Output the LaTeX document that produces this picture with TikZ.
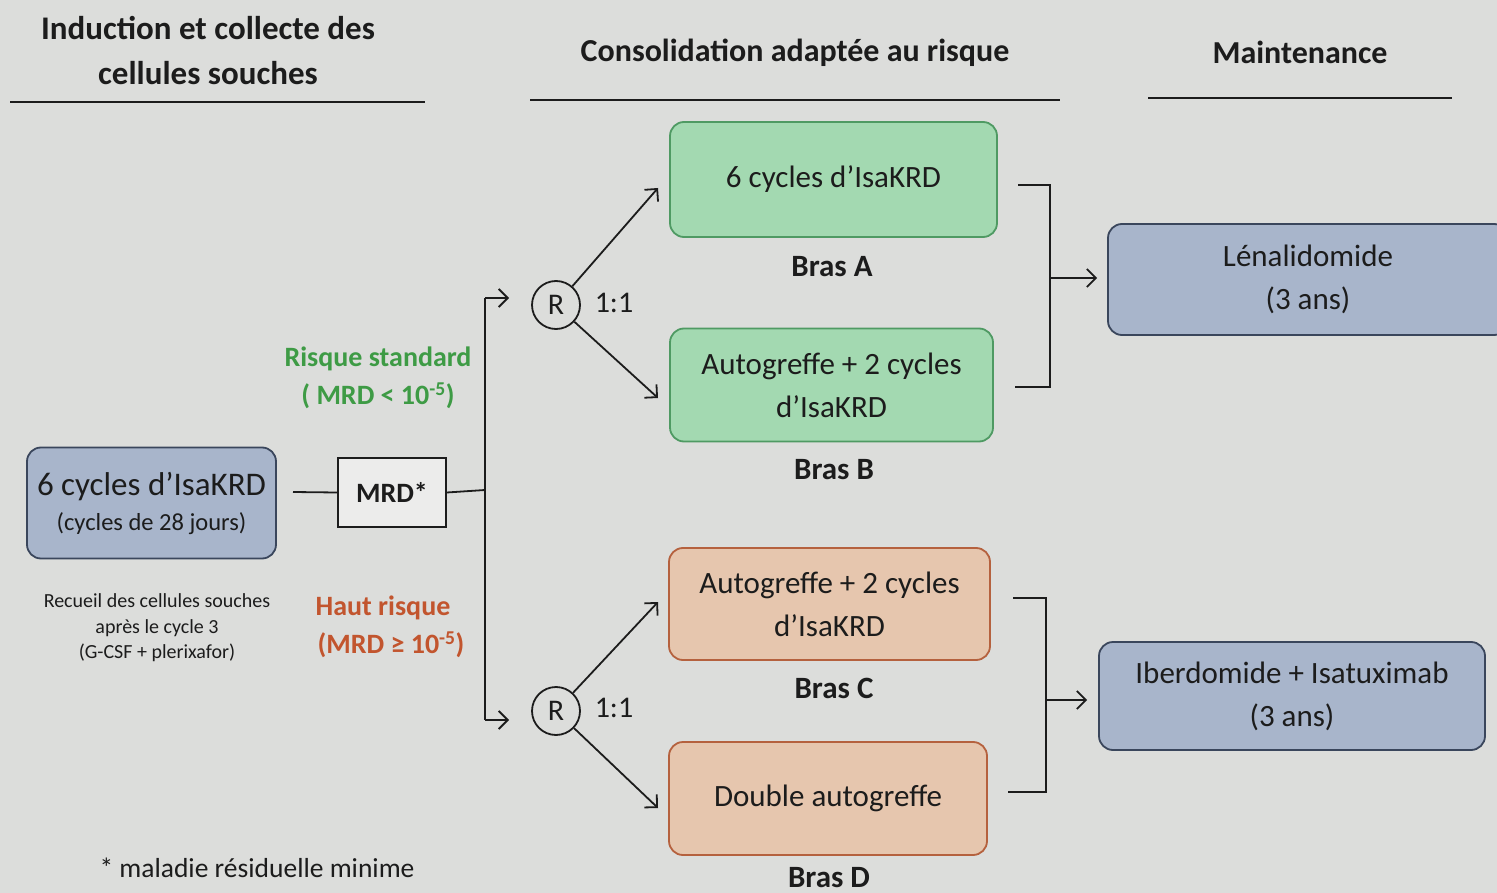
\documentclass[tikz,border=0pt]{standalone}
\usepackage{fontspec}
\setmainfont{Carlito}
\usetikzlibrary{arrows.meta}
\definecolor{bg}{HTML}{DCDDDB}
\definecolor{blueF}{HTML}{A8B5CB}
\definecolor{blueD}{HTML}{3A465C}
\definecolor{greenF}{HTML}{A3D9B1}
\definecolor{greenD}{HTML}{4F9A63}
\definecolor{orangeF}{HTML}{E6C6AE}
\definecolor{orangeD}{HTML}{B5613E}
\definecolor{stdG}{HTML}{3E9B45}
\definecolor{hautR}{HTML}{C2552E}
\definecolor{ink}{HTML}{1C1C1C}
% font size and line distance, both in pt
\newcommand{\fs}[2]{\fontsize{#1}{#2}\selectfont}
\tikzset{
  wire/.style={draw=ink, line width=1.8pt},
  arr/.style={wire, -{Straight Barb[length=9pt,width=18pt,line width=1.8pt]}},
  roundbox/.style={rounded corners=14pt, line width=1.8pt, align=center, text=ink, inner sep=0pt,
                   font=\fs{31}{43}},
  bluebox/.style={roundbox, fill=blueF, draw=blueD},
  greenbox/.style={roundbox, fill=greenF, draw=greenD},
  orangebox/.style={roundbox, fill=orangeF, draw=orangeD},
  head/.style={font=\fs{32}{45}\bfseries, text=ink, align=center},
  bras/.style={font=\fs{31}{36}\bfseries, text=ink},
  randnode/.style={circle, draw=ink, line width=1.8pt, minimum size=48pt, inner sep=0pt,
                   font=\fs{30}{36}, text=ink},
  ratio/.style={font=\fs{30}{36}, text=ink},
  risk/.style={font=\fs{28}{38}\bfseries, align=center},
}
\begin{document}
\begin{tikzpicture}[x=1pt,y=-1pt]
\useasboundingbox (0,0) rectangle (1497,893);
\fill[bg] (0,0) rectangle (1497,893);

% column headings and their rules
\node[head, font=\fs{33}{45}\bfseries] (h1) at (208,51) {Induction et collecte des\\cellules souches};
\draw[line width=2.2pt, ink] (10,102) -- (425,102);
\node[head] (h2) at (795,53) {Consolidation adaptée au risque};
\draw[line width=2.2pt, ink] (530,100) -- (1060,100);
\node[head] (h3) at (1300,52) {Maintenance};
\draw[line width=2.2pt, ink] (1148,98) -- (1452,98);

% induction
\node[bluebox, minimum width=249pt, minimum height=111pt, font=\fs{24.5}{30}] (ind) at (151.5,503)
  {{\fs{33}{36}6 cycles d’IsaKRD}\\[5pt](cycles de 28 jours)};
\node[font=\fs{20}{25.5}, text=ink, align=center] (recueil) at (157,628)
  {Recueil des cellules souches\\après le cycle 3\\(G-CSF + plerixafor)};

% MRD test
\node[draw=ink, line width=1.8pt, fill=bg!55!white, minimum width=108pt, minimum height=69pt,
      font=\fs{28}{32}\bfseries, text=ink] (mrd) at (392,492.5) {MRD*};
\coordinate (indout) at (293,492);
\draw[wire] (indout) -- (mrd.west);
\coordinate (split) at (485,490);
\draw[wire] (mrd.east) -- (split);

% risk split
\coordinate (vtop) at (485,298);
\coordinate (vbot) at (485,720);
\coordinate (ttop) at (509,298);
\coordinate (tbot) at (509,720);
\draw[wire] (vtop) -- (vbot);
\draw[arr] (vtop) -- (ttop);
\draw[arr] (vbot) -- (tbot);
\node[risk, text=stdG] (std) at (378,378)
  {Risque standard\\( MRD < 10\textsuperscript{-5})};
\node[risk, text=hautR] (haut) at (383,627)
  {Haut risque\\\hspace*{16pt}(MRD ≥ 10\textsuperscript{-5})};

% randomisations
\node[randnode] (r1) at (556,305) {R};
\node[ratio] (q1) at (614,303) {1:1};
\node[randnode] (r2) at (556,711) {R};
\node[ratio] (q2) at (614,708) {1:1};

% consolidation arms
\node[greenbox, minimum width=327pt, minimum height=115pt] (A) at (833.5,179.5)
  {6 cycles d’IsaKRD};
\node[bras] (bA) at (832,267) {Bras A};
\node[greenbox, minimum width=323pt, minimum height=113pt] (B) at (831.5,385)
  {Autogreffe + 2 cycles\\d’IsaKRD};
\node[bras] (bB) at (834,470) {Bras B};
\node[orangebox, minimum width=321pt, minimum height=112pt] (C) at (829.5,604)
  {Autogreffe + 2 cycles\\d’IsaKRD};
\node[bras] (bC) at (834,688) {Bras C};
\node[orangebox, minimum width=318pt, minimum height=113pt] (D) at (828,798.5)
  {Double autogreffe};
\node[bras] (bD) at (829,878) {Bras D};

\coordinate (tA) at (658,188);
\coordinate (tB) at (658,398);
\coordinate (tC) at (658,602);
\coordinate (tD) at (658,808);
\draw[arr] (r1) -- (tA);
\draw[arr] (r1) -- (tB);
\draw[arr] (r2) -- (tC);
\draw[arr] (r2) -- (tD);

% maintenance
\node[bluebox, minimum width=400pt, minimum height=111pt] (len) at (1308,279.5)
  {Lénalidomide\\(3 ans)};
\node[bluebox, minimum width=386pt, minimum height=108pt] (iber) at (1292,696)
  {Iberdomide + Isatuximab\\(3 ans)};

% brackets gathering the arms
\coordinate (ka1) at (1018,185);
\coordinate (kb1) at (1015,387);
\coordinate (kx1) at (1050,278);
\draw[wire] (ka1) -| (kx1) |- (kb1);
\draw[arr, shorten >=10pt] (kx1) -- (len.west |- kx1);
\coordinate (ka2) at (1013,598);
\coordinate (kb2) at (1008,792);
\coordinate (kx2) at (1046,700);
\draw[wire] (ka2) -| (kx2) |- (kb2);
\draw[arr, shorten >=11pt] (kx2) -- (iber.west |- kx2);

% footnote
\node[font=\fs{27.5}{32}, text=ink, anchor=west] (note) at (96,868) {* maladie résiduelle minime};
\end{tikzpicture}
\end{document}
